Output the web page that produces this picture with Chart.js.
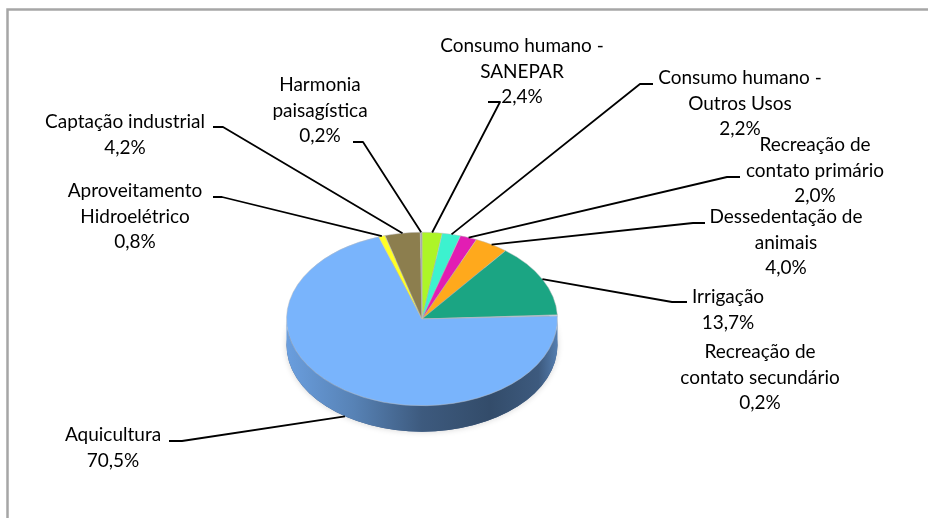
<!DOCTYPE html>
<html>
<head>
<meta charset="utf-8">
<script src="https://cdn.jsdelivr.net/npm/chart.js@4.4.1/dist/chart.umd.min.js"></script>
<style>
html,body{margin:0;padding:0;background:#fff;}
#wrap{width:928px;height:518px;position:relative;}
</style>
</head>
<body>
<div id="wrap"><canvas id="c" width="928" height="518"></canvas></div>
<script>
// ---- data ----
const categories = [
  ["Consumo humano -", "SANEPAR"],
  ["Consumo humano -", "Outros Usos"],
  ["Recreação de", "contato primário"],
  ["Dessedentação de", "animais"],
  ["Irrigação"],
  ["Recreação de", "contato secundário"],
  ["Aquicultura"],
  ["Aproveitamento", "Hidroelétrico"],
  ["Captação industrial"],
  ["Harmonia", "paisagística"]
];
const values = [2.4, 2.2, 2.0, 4.0, 13.7, 0.2, 70.5, 0.8, 4.2, 0.2];
const valueLabels = ["2,4%", "2,2%", "2,0%", "4,0%", "13,7%", "0,2%", "70,5%", "0,8%", "4,2%", "0,2%"];

// ---- styles / layout ----
const colors = ["#ADF527", "#3CF2CF", "#E21DB3", "#FFA91C", "#1BA583", "#C9DDF7", "#79B4FC", "#FFFF26", "#8C7E4E", "#A6A6A6"];
// label text centre x, first line y (middle)
const labelPos = [
  [522, 46], [740, 78], [815, 145], [786, 217], [728, 297],
  [760, 352], [113, 435], [135, 191], [125, 122], [320, 85]
];
// leader ticks: [x near label, x elbow, y]  (null = no leader)
const leaderTicks = [
  [488, 500, 102], [653, 640, 84], [740, 727, 177], [705, 693, 223], [687, 672, 302],
  null, [169, 182, 441], [213, 222, 197], [213, 223, 127], [353, 363, 142]
];
const K = 0.64;      // vertical squash of pie
const DEPTH = 26;    // side thickness
const LINE_H = 25.5;
const FONT = '19px Lato, "Open Sans", sans-serif';

function shade(hex, f){
  const n = parseInt(hex.slice(1),16);
  let r=(n>>16)&255,g=(n>>8)&255,b=n&255;
  r=Math.round(r*f);g=Math.round(g*f);b=Math.round(b*f);
  return `rgb(${r},${g},${b})`;
}

const pie3d = {
  id: 'pie3d',
  beforeDraw(chart){
    const ctx = chart.ctx;
    ctx.save();
    ctx.strokeStyle = '#A6A6A6';
    ctx.lineWidth = 2.5;
    ctx.strokeRect(7.5, 9.5, 1000, 600);
    ctx.restore();
  },
  beforeDatasetsDraw(chart){
    const meta = chart.getDatasetMeta(0);
    const a0 = meta.data[0];
    const cx = a0.x, cy = a0.y, r = a0.outerRadius, ry = r*K;
    const ctx = chart.ctx;
    ctx.save();
    // soft halo under the pie
    ctx.save();
    ctx.shadowColor = 'rgba(0,0,0,0.18)';
    ctx.shadowBlur = 6;
    ctx.beginPath();
    ctx.ellipse(cx, cy + DEPTH, r, ry, 0, 0, Math.PI*2);
    ctx.fillStyle = '#3A5A86';
    ctx.fill();
    ctx.restore();
    meta.data.forEach((arc, i) => {
      const s = arc.startAngle, e = arc.endAngle;
      for (const off of [-2*Math.PI, 0, 2*Math.PI]) {
        const lo = Math.max(s, off), hi = Math.min(e, off + Math.PI);
        if (hi <= lo) continue;
        const g = ctx.createLinearGradient(cx - r, 0, cx + r, 0);
        const c = colors[i];
        g.addColorStop(0, shade(c, 0.88));
        g.addColorStop(0.25, shade(c, 0.72));
        g.addColorStop(0.5, shade(c, 0.5));
        g.addColorStop(0.75, shade(c, 0.42));
        g.addColorStop(0.93, shade(c, 0.5));
        g.addColorStop(1, shade(c, 0.7));
        ctx.beginPath();
        ctx.ellipse(cx, cy + DEPTH, r, ry, 0, lo, hi, false);
        ctx.ellipse(cx, cy, r, ry, 0, hi, lo, true);
        ctx.closePath();
        ctx.fillStyle = g;
        ctx.fill();
      }
    });
    ctx.restore();
    ctx.save();
    ctx.translate(cx, cy);
    ctx.scale(1, K);
    ctx.translate(-cx, -cy);
  },
  afterDatasetsDraw(chart){
    chart.ctx.restore();
    const meta = chart.getDatasetMeta(0);
    const ctx = chart.ctx;
    ctx.save();
    ctx.strokeStyle = '#000';
    ctx.lineWidth = 1.8;
    ctx.lineJoin = 'round';
    meta.data.forEach((arc, i) => {
      const t = leaderTicks[i];
      if (!t) return;
      const m = (arc.startAngle + arc.endAngle)/2;
      const r = arc.outerRadius, ry = r*K;
      const ax = arc.x + r*Math.cos(m);
      const ay = arc.y + ry*Math.sin(m) + (Math.sin(m) > 0 ? DEPTH : 0);
      ctx.beginPath();
      ctx.moveTo(t[0], t[2]);
      ctx.lineTo(t[1], t[2]);
      ctx.lineTo(ax, ay);
      ctx.stroke();
    });
    ctx.fillStyle = '#000';
    ctx.font = FONT;
    ctx.textAlign = 'center';
    ctx.textBaseline = 'middle';
    categories.forEach((lines, i) => {
      const all = lines.concat([valueLabels[i]]);
      const [x, y] = labelPos[i];
      all.forEach((txt, j) => ctx.fillText(txt, x, y + j*LINE_H));
    });
    ctx.restore();
  }
};

new Chart(document.getElementById('c'), {
  type: 'pie',
  data: {
    labels: categories.map(l => l.join(' ')),
    datasets: [{
      data: values,
      backgroundColor: colors,
      borderColor: 'rgba(190,190,190,0.6)',
      borderWidth: 1,
      clip: false
    }]
  },
  options: {
    responsive: false,
    animation: false,
    rotation: 0,
    layout: { padding: { left: 286, right: 370, top: 183, bottom: 63 } },
    plugins: { legend: { display: false }, tooltip: { enabled: false } }
  },
  plugins: [pie3d]
});
</script>
</body>
</html>
